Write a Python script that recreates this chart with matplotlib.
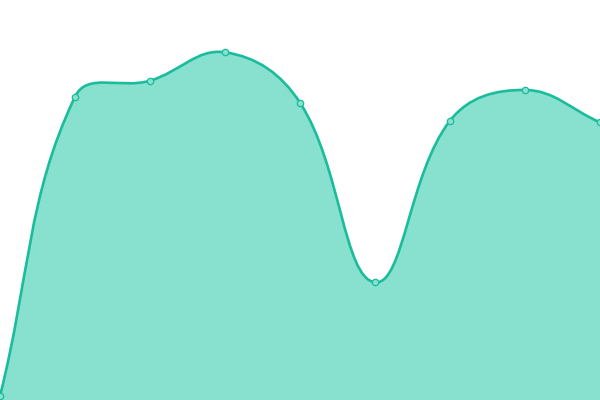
import numpy as np
import matplotlib
matplotlib.use('Agg')
import matplotlib.pyplot as plt
from matplotlib.path import Path
from matplotlib.patches import PathPatch

# values (0 = bottom edge, 400 = top edge)
labels = ['1', '2', '3', '4', '5', '6', '7', '8', '9']
values = [4, 303.3, 319.3, 347.7, 297.3, 117.7, 279.3, 310, 277.7]

LINE = '#1abc9c'
FILL = '#88e0cf'
TENSION = 0.4
STEP = 75.0  # pixels between categories


def control_points(xs, ys, t):
    # Chart.js style spline, computed in pixel space
    n = len(xs)
    pts = np.column_stack([xs * STEP, ys])
    before, after = [], []
    for i in range(n):
        prev = pts[max(i - 1, 0)]
        cur = pts[i]
        nxt = pts[min(i + 1, n - 1)]
        d01 = np.hypot(*(cur - prev))
        d12 = np.hypot(*(nxt - cur))
        tot = d01 + d12
        s01 = d01 / tot if tot else 0
        s12 = d12 / tot if tot else 0
        fa, fb = t * s01, t * s12
        c1 = cur - fa * (nxt - prev)
        c2 = cur + fb * (nxt - prev)
        c1[1] = np.clip(c1[1], 0, 400)
        c2[1] = np.clip(c2[1], 0, 400)
        before.append(c1 / [STEP, 1])
        after.append(c2 / [STEP, 1])
    return before, after


def main():
    xs = np.arange(len(values), dtype=float)
    ys = np.array(values, dtype=float)
    before, after = control_points(xs, ys, TENSION)

    verts = [(xs[0], ys[0])]
    codes = [Path.MOVETO]
    for i in range(1, len(xs)):
        verts += [tuple(after[i - 1]), tuple(before[i]), (xs[i], ys[i])]
        codes += [Path.CURVE4] * 3
    line_path = Path(verts, codes)

    fill_verts = verts + [(xs[-1], 0), (xs[0], 0), (xs[0], ys[0])]
    fill_codes = codes + [Path.LINETO, Path.LINETO, Path.CLOSEPOLY]
    fill_path = Path(fill_verts, fill_codes)

    fig = plt.figure(figsize=(6, 4), dpi=100)
    ax = fig.add_axes([0, 0, 1, 1])
    ax.add_patch(PathPatch(fill_path, facecolor=FILL, edgecolor='none'))
    ax.add_patch(PathPatch(line_path, facecolor='none', edgecolor=LINE, lw=1.9))
    ax.plot(xs, ys, 'o', ms=4.6, mfc=FILL, mec=LINE, mew=0.9, clip_on=False)

    ax.set_xlim(0, len(values) - 1)
    ax.set_ylim(0, 400)
    ax.set_xticks(xs, labels)
    ax.axis('off')

    fig.savefig('out.png', dpi=100)


if __name__ == "__main__":
    main()
